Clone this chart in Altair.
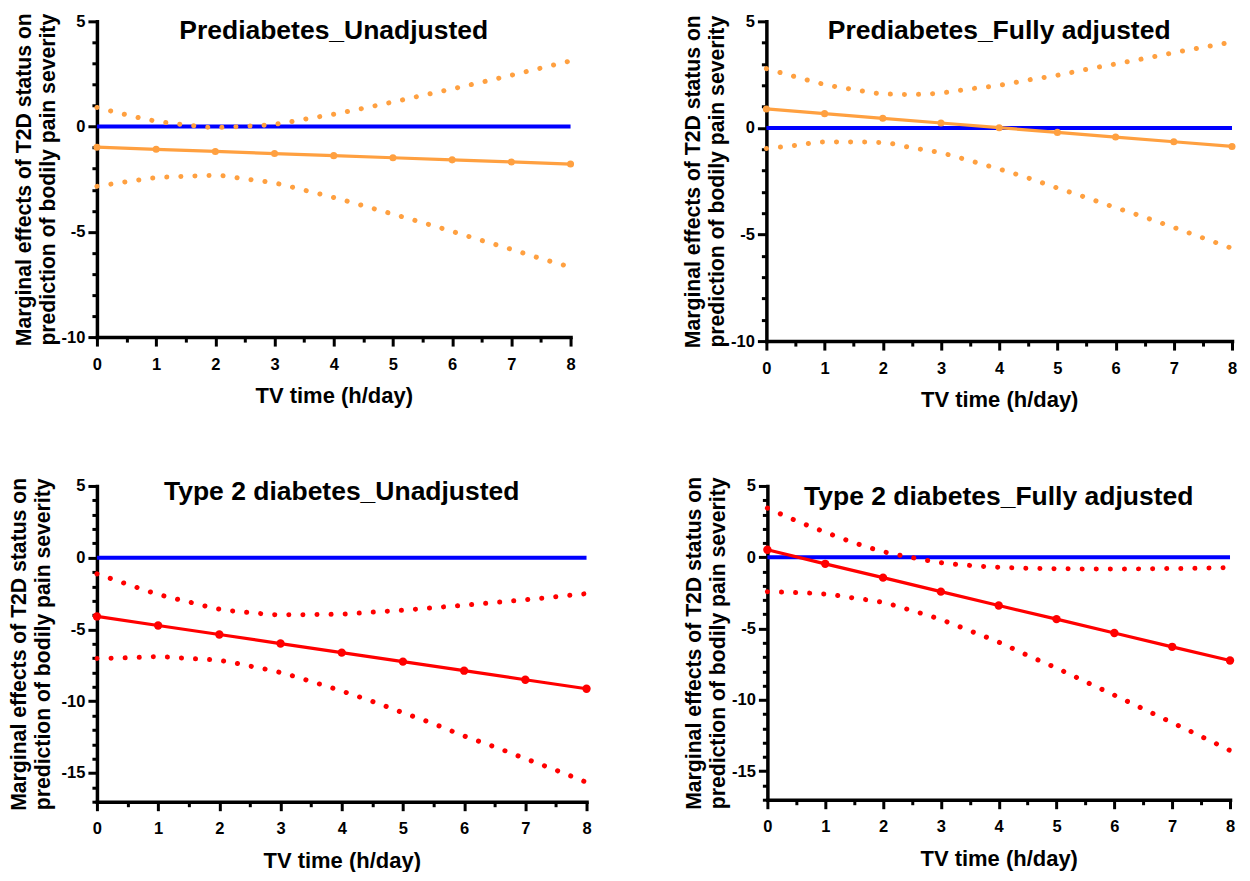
import altair as alt
import pandas as pd

FONT = "Liberation Sans"

# ---------------- data ----------------
x_main = [0, 1, 2, 3, 4, 5, 6, 7, 8]
x_ci = [0, 0.5, 1, 1.5, 2, 2.5, 3, 3.5, 4, 4.5, 5, 5.5, 6, 6.5, 7, 7.5, 8]

pre_unadj_est = [-0.98, -1.08, -1.18, -1.28, -1.38, -1.48, -1.58, -1.68, -1.78]
pre_unadj_upper = [0.91, 0.56, 0.26, 0.08, -0.04, 0.02, 0.11, 0.35, 0.59, 0.87, 1.17, 1.48, 1.79, 2.11, 2.44, 2.78, 3.12]
pre_unadj_lower = [-2.84, -2.62, -2.43, -2.36, -2.32, -2.49, -2.68, -3.02, -3.37, -3.76, -4.16, -4.56, -4.98, -5.41, -5.83, -6.27, -6.67]

pre_adj_est = [0.89, 0.67, 0.45, 0.23, 0.01, -0.21, -0.43, -0.65, -0.87]
pre_adj_upper = [2.78, 2.40, 2.04, 1.80, 1.60, 1.57, 1.64, 1.83, 2.00, 2.25, 2.47, 2.75, 3.00, 3.26, 3.53, 3.78, 4.03]
pre_adj_lower = [-0.97, -0.82, -0.66, -0.66, -0.69, -0.93, -1.17, -1.54, -1.93, -2.35, -2.82, -3.27, -3.74, -4.19, -4.67, -5.16, -5.65]

t2d_unadj_est = [-4.09, -4.72, -5.35, -5.98, -6.61, -7.24, -7.87, -8.50, -9.13]
t2d_unadj_upper = [-1.12, -1.85, -2.55, -3.08, -3.58, -3.82, -3.98, -3.96, -3.93, -3.79, -3.65, -3.48, -3.31, -3.12, -2.93, -2.72, -2.50]
t2d_unadj_lower = [-7.02, -6.97, -6.90, -7.02, -7.16, -7.55, -8.00, -8.62, -9.29, -10.01, -10.80, -11.57, -12.42, -13.18, -14.00, -14.80, -15.65]

t2d_adj_est = [0.53, -0.46, -1.43, -2.41, -3.38, -4.34, -5.31, -6.28, -7.24]
t2d_adj_upper = [3.45, 2.56, 1.76, 1.02, 0.40, -0.02, -0.38, -0.57, -0.70, -0.77, -0.80, -0.82, -0.83, -0.81, -0.79, -0.76, -0.72]
t2d_adj_lower = [-2.41, -2.48, -2.58, -2.86, -3.17, -3.74, -4.37, -5.15, -5.95, -6.88, -7.77, -8.72, -9.67, -10.63, -11.60, -12.56, -13.55]

x_tick_values = [0, 0.5, 1, 1.5, 2, 2.5, 3, 3.5, 4, 4.5, 5, 5.5, 6, 6.5, 7, 7.5, 8]

ORANGE = "#FFA040"
RED = "#FF0000"
BLUE = "#0000FF"

X_TITLE = "TV time (h/day)"
Y_TITLE = ["Marginal effects of T2D status on", "prediction of bodily pain severity"]

AX_COMMON = dict(
    grid=False,
    domainColor="black",
    domainWidth=3.5,
    domainCap="square",
    tickColor="black",
    tickWidth=3,
    labelFont=FONT,
    labelFontSize=16.5,
    labelFontWeight="bold",
    labelColor="black",
    titleFont=FONT,
    titleFontWeight="bold",
    titleColor="black",
    labelOverlap=False,
    labelFlush=False,
)


def panel(title, est, upper, lower, color, y_min, width, height, psize, ytpad, title_y):
    df_main = pd.DataFrame({"x": x_main, "y": est})
    df_ci = pd.DataFrame({
        "x": x_ci + x_ci,
        "y": upper + lower,
        "band": ["upper"] * len(x_ci) + ["lower"] * len(x_ci),
    })
    df_zero = pd.DataFrame({"y": [0]})
    df_title = pd.DataFrame({"t": [title]})

    xs = alt.Scale(domain=[0, 8], nice=False, zero=False)
    ys = alt.Scale(domain=[y_min, 5], nice=False, zero=False)

    x_axis = alt.Axis(
        values=x_tick_values,
        labelExpr="datum.value % 1 === 0 ? '' + datum.value : ''",
        tickSize={"condition": {"test": "datum.value % 1 === 0", "value": 9}, "value": 5},
        labelPadding=10,
        title=X_TITLE,
        titleFontSize=22,
        titlePadding=13,
        **AX_COMMON,
    )
    y_axis = alt.Axis(
        values=list(range(y_min, 6)),
        labelExpr="datum.value % 5 === 0 ? '' + datum.value : ''",
        tickSize={"condition": {"test": "datum.value % 5 === 0", "value": 9}, "value": 5},
        labelPadding=3,
        title=Y_TITLE,
        titleFontSize=21.2,
        titleLineHeight=24,
        titlePadding=ytpad,
        **AX_COMMON,
    )
    X = alt.X("x:Q", scale=xs, axis=x_axis)
    Y = alt.Y("y:Q", scale=ys, axis=y_axis)

    zero = alt.Chart(df_zero).mark_rule(color=BLUE, strokeWidth=4).encode(y=Y)
    ci = alt.Chart(df_ci).mark_line(
        color=color, strokeWidth=5, strokeCap="round", strokeDash=[0.1, 14],
        interpolate="monotone",
    ).encode(x=X, y=Y, detail="band:N")
    line = alt.Chart(df_main).mark_line(color=color, strokeWidth=3.2).encode(x=X, y=Y)
    pts = alt.Chart(df_main).mark_point(
        color=color, filled=True, opacity=1, size=psize, shape="circle"
    ).encode(x=X, y=Y)
    ttl = alt.Chart(df_title).mark_text(
        font=FONT, fontSize=26.5, fontWeight="bold", color="black",
        align="center", baseline="alphabetic",
    ).encode(text="t:N", x=alt.value(width / 2), y=alt.value(title_y))

    return alt.layer(zero, ci, line, pts, ttl).properties(width=width, height=height)


p1 = panel("Prediabetes_Unadjusted", pre_unadj_est, pre_unadj_upper, pre_unadj_lower,
           ORANGE, -10, 474, 316, 50, 3, 18)
p2 = panel("Prediabetes_Fully adjusted", pre_adj_est, pre_adj_upper, pre_adj_lower,
           ORANGE, -10, 466, 320, 50, 3, 18)
p3 = panel("Type 2 diabetes_Unadjusted", t2d_unadj_est, t2d_unadj_upper, t2d_unadj_lower,
           RED, -17, 490, 316, 70, 8, 14)
p4 = panel("Type 2 diabetes_Fully adjusted", t2d_adj_est, t2d_adj_upper, t2d_adj_lower,
           RED, -17, 463, 314, 70, 3, 19)

row1 = alt.hconcat(p1, p2, spacing=102)
row2 = alt.hconcat(p3, p4, spacing=87)

chart = alt.vconcat(row1, row2, spacing=65).properties(
    padding={"left": 0, "top": 4, "right": 0, "bottom": 0}
).configure_view(stroke=None)

chart.save("out.html", embed_options={"renderer": "svg", "actions": False})
